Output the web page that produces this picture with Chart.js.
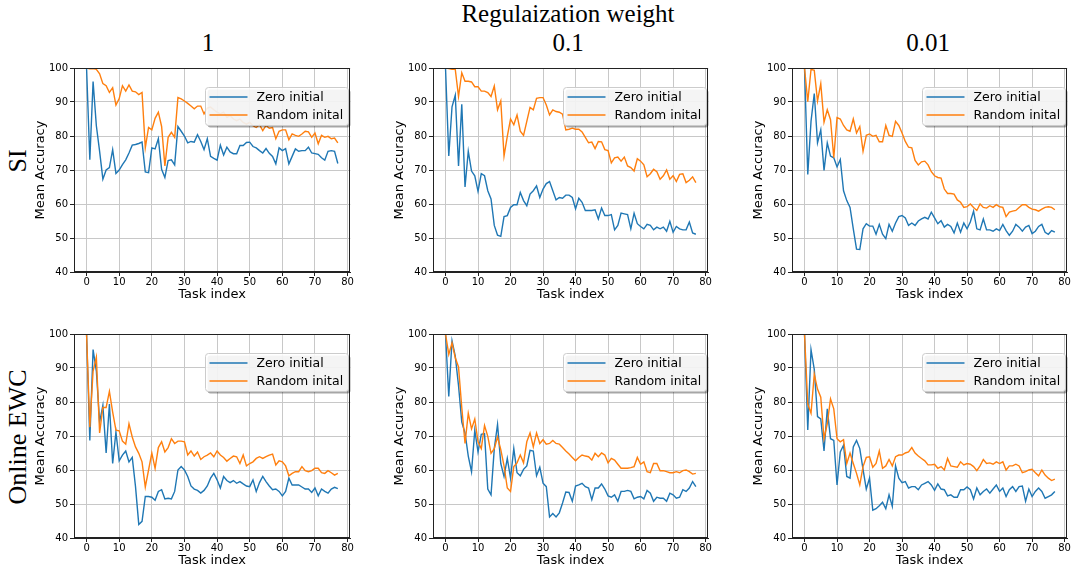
<!DOCTYPE html>
<html>
<head>
<meta charset="utf-8">
<script src="https://cdn.jsdelivr.net/npm/chart.js@4.4.1/dist/chart.umd.min.js"></script>
<style>
  html, body { margin: 0; padding: 0; background: #fff; }
  #fig { position: relative; width: 1071px; height: 571px; overflow: hidden; background: #fff; }
  canvas { position: absolute; }
  .lbl { position: absolute; font-family: 'Liberation Serif', 'DejaVu Serif', serif; color: #000;
         white-space: nowrap; transform: translate(-50%, -50%); line-height: 1; }
  .rot { transform: translate(-50%, -50%) rotate(-90deg); }
</style>
</head>
<body>
<div id="fig">
  <div class="lbl" style="left:568px; top:13px; font-size:25px;">Regulaization weight</div>
  <div class="lbl" style="left:208px; top:42px; font-size:25px;">1</div>
  <div class="lbl" style="left:568px; top:42px; font-size:25px;">0.1</div>
  <div class="lbl" style="left:928px; top:42px; font-size:25px;">0.01</div>
  <div class="lbl rot" style="left:18px; top:161px; font-size:26px;">SI</div>
  <div class="lbl rot" style="left:18px; top:437px; font-size:26px;">Online EWC</div>
</div>
<script>
// task index 0..77
const taskIdx = Array.from({ length: 78 }, (_, i) => i);
const xTicks = [0, 10, 20, 30, 40, 50, 60, 70, 80];
const yTicks = [40, 50, 60, 70, 80, 90, 100];
const seriesNames = ['Zero initial', 'Random inital'];

// SI, weight 1
const siW1Zero = [100, 73, 96, 83, 75.5, 67.3, 70, 70.7, 76, 69,
  70, 71.6, 73, 75, 77.3, 77.5, 77.8, 78.2, 69.4, 69.2,
  76.5, 76.2, 79.2, 70.2, 67.8, 72.8, 73, 71.5, 82.8, 81.4,
  80, 78, 78.4, 78.2, 80.4, 78.4, 76, 79.2, 74, 73.4,
  72.9, 77.3, 74.4, 76.7, 75.3, 74.8, 74.8, 77.2, 77.2, 78.1,
  78.2, 76.9, 76.5, 75.7, 75, 76.3, 74.9, 74, 71.8, 76.5,
  75.7, 76.3, 71.8, 74, 76.2, 75.5, 75.7, 75.7, 76.7, 75,
  74.8, 74.6, 73.6, 72.9, 75.5, 75.7, 75.5, 71.9];
const siW1Rand = [100, 99.8, 99.8, 99.6, 98.3, 95.4, 94.8, 92.8, 94.2, 89.1,
  91, 94.8, 93.2, 95, 93.2, 93, 92.2, 92.8, 76.5, 82.5,
  81.8, 85.2, 87, 82.8, 71.2, 79.6, 81.1, 79.6, 91.3, 90.9,
  90.3, 89.6, 88.8, 88, 88.8, 88.8, 86.5, 88.2, 88.5, 87.7,
  87, 86.5, 87, 85.5, 86, 85, 84.5, 85, 84, 83.5,
  84, 83, 82.5, 83.3, 81.6, 83.1, 82.3, 82.5, 79.2, 81.4,
  81.8, 81.8, 78.9, 80.6, 80.2, 79.9, 80.6, 81.4, 81.2, 79.6,
  80.9, 77.7, 80.2, 79.6, 79.9, 79.2, 79.4, 78];

// SI, weight 0.1
const siW01Zero = [100, 74.1, 88.6, 92, 71.2, 89.3, 65, 75.5, 69.7, 68.3,
  63.7, 68.9, 68.3, 63.9, 61.5, 53.7, 50.8, 50.5, 56.3, 56.6,
  59, 59.8, 59.8, 63.4, 61, 59.5, 62.9, 63.9, 65.3, 61.9,
  64.4, 66, 66.6, 63.9, 61.2, 61.9, 61.7, 62.6, 62.6, 61.9,
  58.6, 61.7, 60.5, 58.1, 58.1, 58.1, 58.3, 55.6, 58.8, 56.6,
  56.6, 56.9, 52.4, 53.7, 57.3, 57.1, 56.9, 52.7, 57.3, 54.2,
  53.4, 52.7, 54, 53.7, 52.4, 53.2, 52.7, 53.2, 52, 54.9,
  51.7, 53.4, 52.7, 52.4, 52.4, 54.7, 51.5, 51.1];
const siW01Rand = [100, 99.8, 99.6, 99.6, 91.6, 98.6, 96.1, 96.1, 95.9, 94.5,
  94.5, 93.2, 93.2, 92.8, 91.6, 94.7, 87.7, 90.3, 74.1, 79.9,
  85, 83.3, 86.2, 81.4, 80.2, 84.3, 88.4, 87.7, 91.1, 91.3,
  91.3, 89.1, 86.2, 87.7, 87.2, 87, 86.4, 81.8, 82, 82.3,
  82, 82, 81.2, 79.6, 78, 78.2, 76.3, 78.4, 78.3, 76,
  75.7, 72.1, 73.6, 73.8, 72.6, 73.8, 71.2, 70.7, 69.7, 73.3,
  72.6, 71.5, 68, 68.9, 70.2, 69.5, 67.3, 68.3, 70, 67.3,
  68.3, 66.6, 68.7, 68.9, 66.3, 67, 68, 66.3];

// SI, weight 0.01
const siW001Zero = [100, 68.7, 84.3, 92.5, 78, 81.8, 69.9, 78, 74.1, 73.6,
  70.9, 73.1, 63.9, 61, 59, 52.7, 46.7, 46.6, 52.7, 54.2,
  53.5, 53.5, 51.1, 54, 51.1, 49.8, 54, 52, 54.4, 56.3,
  56.6, 55.9, 53.7, 54.4, 53.7, 55, 55.6, 56.1, 55.6, 57.6,
  55.9, 54.2, 55.1, 53.2, 54, 53.4, 51.5, 54.4, 51.7, 54.4,
  52.7, 54.7, 57.9, 52.7, 52.4, 55.6, 52.4, 52.4, 52, 52.7,
  52.2, 54, 52.2, 50.8, 52, 54, 53.2, 52, 53.2, 53.7,
  51.3, 52, 53.4, 54, 51.7, 51.1, 52.2, 51.7];
const siW001Rand = [100, 90.1, 99.6, 99.3, 90.3, 95.4, 84.1, 87.7, 84.8, 73.6,
  85.4, 85, 83.1, 81.8, 81.4, 85, 80.9, 82.8, 75.5, 80.2,
  80.6, 79.9, 80.2, 78.3, 78.3, 83.1, 80.2, 79.9, 84.3, 83.1,
  80.9, 78.4, 76.7, 76.5, 72.8, 71.5, 72.4, 72.6, 71.5, 69.5,
  68.3, 67.8, 67.6, 64.4, 63.1, 63.1, 62.9, 61.2, 60.5, 59,
  59.2, 60, 59, 58.1, 60, 59, 58.8, 59.5, 59, 59.8,
  59.2, 59, 56.3, 57.6, 57.9, 58.1, 59, 59.8, 59.8, 59,
  58.5, 58.3, 57.9, 58.5, 59, 59.2, 59, 58.3];

// Online EWC, weight 1
const ewcW1Zero = [100, 68.7, 95.4, 89.1, 74.1, 79, 65, 79.4, 61.9, 71.2,
  62.7, 64.4, 65.6, 62.4, 63.7, 55.1, 44, 44.9, 52.2, 52.2,
  52, 51.1, 53.7, 54.2, 51.5, 51.7, 51.5, 53.7, 60, 61,
  60, 58.1, 55.3, 54.4, 54, 53.2, 54, 55.3, 57.6, 59,
  57.1, 54.7, 58.1, 56.9, 56.3, 56.9, 56.1, 56.6, 55.9, 55.3,
  55.1, 57.1, 53.7, 56.3, 58.1, 56.6, 55.3, 54.2, 54.4, 53.7,
  52.4, 53.7, 57.6, 55.6, 55.6, 55.6, 55, 54.4, 54.4, 53.4,
  54.7, 52.4, 54.4, 53.7, 53.2, 54.4, 54.9, 54.5];
const ewcW1Rand = [100, 72.6, 89.1, 93.2, 70.9, 78.4, 78.4, 83.1, 77, 71.7,
  71.5, 68.5, 67.6, 73.6, 69.7, 66.8, 64.9, 62.4, 55, 60,
  65, 60.5, 66.6, 68.3, 65.3, 66.6, 69.2, 67.8, 68.5, 68.5,
  68.3, 64.4, 65.6, 64.1, 65.3, 63.1, 63.9, 64.4, 65, 63.9,
  65.6, 64.4, 63.7, 62.6, 63.4, 64.1, 63.9, 61.9, 64.4, 61.2,
  61.9, 62.4, 63.4, 63.9, 63.4, 63.9, 64.4, 64.7, 61.5, 62.7,
  62.4, 61.2, 58.3, 59, 59.5, 59.5, 61, 59.8, 59.5, 59.8,
  60.5, 60.5, 59.2, 59, 59.8, 59.2, 58.5, 59];

// Online EWC, weight 0.1
const ewcW01Zero = [100, 81.6, 98, 93.5, 84.8, 74.1, 70.9, 64.1, 59.5, 71.7,
  65.3, 70.5, 70.7, 54.4, 52.7, 66.3, 73.4, 61.9, 58.1, 63.4,
  57.6, 66.3, 59.2, 58.3, 60.2, 61.2, 65.8, 65.6, 58.3, 60.8,
  56.1, 55.1, 46.2, 47.2, 46.2, 47.4, 50.3, 53.5, 53.4, 50.8,
  55.3, 55.6, 56.1, 55.1, 54.7, 51.3, 54.7, 54.7, 55.9, 54.4,
  52.4, 52, 52.7, 50.8, 53.7, 53.7, 54, 53.7, 51.5, 52,
  52.2, 51.5, 54, 53.2, 50.8, 52, 51.7, 51.7, 50.8, 53.2,
  52.7, 51.7, 52, 54.2, 53.7, 54.7, 56.6, 55.1];
const ewcW01Rand = [100, 94, 97.4, 93, 90.3, 78.4, 67.8, 76.7, 72.1, 75,
  68.3, 66.3, 73.1, 69.9, 64.9, 66.3, 69.7, 66, 61.2, 54.7,
  53.7, 61, 62.1, 64.4, 62.1, 68.3, 70.9, 66.8, 70.9, 67.8,
  68.9, 67.6, 67.8, 68.7, 67.8, 67.6, 66.6, 65.6, 64.7, 63.7,
  62.7, 63.7, 64.4, 64.1, 63.9, 62.9, 64.9, 63.9, 65, 64.4,
  62.1, 63.4, 62.9, 61.7, 60.5, 60.5, 60.5, 60.7, 61, 63.7,
  61.7, 62.4, 59.5, 59.2, 61.9, 61.9, 59.8, 59.8, 59.5, 59.2,
  59.2, 59.5, 59.2, 59.8, 60, 59.5, 58.8, 59];

// Online EWC, weight 0.01
const ewcW001Zero = [100, 71.8, 95.4, 89.6, 75.7, 75, 65.6, 78, 69.2, 68.7,
  55.6, 65.3, 67.3, 58.1, 57.6, 66.8, 68.7, 66.3, 60.2, 54.4,
  57.6, 48.2, 48.6, 49.5, 50.5, 48.6, 52.7, 49.3, 61.2, 57.6,
  56.3, 56.6, 54.7, 55.1, 55.1, 54.2, 55.6, 56.1, 56.6, 55.6,
  54, 55.9, 54.4, 54.2, 52.4, 52.7, 52, 52, 54.2, 54.2,
  55, 54.2, 51.5, 54.7, 52.7, 53.7, 54.4, 53.2, 54.4, 55.6,
  53.7, 54.7, 52.2, 54.2, 55.1, 53.7, 55.1, 55.3, 50.8, 54.4,
  52.2, 53.7, 54.7, 53.7, 51.7, 52.2, 52.7, 53.7];
const ewcW001Rand = [100, 79.4, 76.7, 88.2, 83.8, 81.4, 69.2, 73.6, 80.9, 78,
  69.2, 68.3, 68.9, 61.9, 65, 61.9, 59, 55.6, 61, 63.7,
  63.9, 60.8, 61.9, 65.6, 60.5, 61.2, 63.1, 61.2, 63.9, 64.4,
  64.4, 65, 65.3, 66.6, 65, 64.1, 63.4, 62.7, 61.5, 61.5,
  61.7, 60.5, 61, 60, 63.4, 61.2, 61, 60.8, 62.4, 61.5,
  61.9, 61.7, 61, 59.8, 61.2, 63.1, 61.9, 62.1, 61.7, 62.4,
  61.9, 62.4, 60, 61.2, 61.2, 61.7, 61.2, 59.2, 59.5, 60,
  60.2, 59.2, 58.3, 60, 58.5, 57.6, 56.9, 57.3];

const BLUE = '#1f77b4';
const ORANGE = '#ff7f0e';
const SANS = "'DejaVu Sans', sans-serif";

// plot-area placement (page px) and which series go in it
const panels = [
  { left: 74,  right: 351,  top: 66,  zero: siW1Zero,    rand: siW1Rand },
  { left: 433, right: 709,  top: 66,  zero: siW01Zero,   rand: siW01Rand },
  { left: 792, right: 1068, top: 66,  zero: siW001Zero,  rand: siW001Rand },
  { left: 74,  right: 351,  top: 332, zero: ewcW1Zero,   rand: ewcW1Rand },
  { left: 433, right: 709,  top: 332, zero: ewcW01Zero,  rand: ewcW01Rand },
  { left: 792, right: 1068, top: 332, zero: ewcW001Zero, rand: ewcW001Rand },
];
const PLOT_H = 206, Y_AXIS_W = 60, X_AXIS_H = 31, PAD_TOP = 6, PAD_RIGHT = 3;

// box around the axes + matplotlib-ish legend in the upper right
const framePlugin = {
  id: 'frame',
  afterDraw(chart) {
    const { ctx, chartArea: ca } = chart;
    ctx.save();
    ctx.strokeStyle = '#222';
    ctx.lineWidth = 1;
    ctx.strokeRect(Math.round(ca.left) + 0.5, Math.round(ca.top) + 0.5,
                   Math.round(ca.right - ca.left) - 1, Math.round(ca.bottom - ca.top) - 1);

    const bw = 143, bh = 38;
    const bx = Math.round(ca.right) - bw - 1.5, by = Math.round(ca.top) + 19.5;
    ctx.fillStyle = 'rgba(0,0,0,0.35)';
    ctx.beginPath(); ctx.roundRect(bx + 2, by + 2, bw, bh, 3); ctx.fill();
    ctx.fillStyle = 'rgba(255,255,255,0.88)';
    ctx.strokeStyle = '#cccccc';
    ctx.beginPath(); ctx.roundRect(bx, by, bw, bh, 3); ctx.fill(); ctx.stroke();

    ctx.font = '12.5px ' + SANS;
    ctx.textBaseline = 'middle';
    chart.data.datasets.forEach((ds, k) => {
      const ly = by + 9.5 + k * 18;
      ctx.strokeStyle = ds.borderColor;
      ctx.lineWidth = 1.5;
      ctx.beginPath(); ctx.moveTo(bx + 4, ly); ctx.lineTo(bx + 42, ly); ctx.stroke();
      ctx.fillStyle = '#000';
      ctx.fillText(ds.label, bx + 51, ly + 0.5);
    });
    ctx.restore();
  },
};

const fig = document.getElementById('fig');

panels.forEach(p => {
  const canvas = document.createElement('canvas');
  const w = (p.right - p.left) + Y_AXIS_W + PAD_RIGHT;
  const h = PLOT_H + PAD_TOP + X_AXIS_H;
  canvas.width = w; canvas.height = h;
  canvas.style.left = (p.left - Y_AXIS_W) + 'px';
  canvas.style.top = (p.top - PAD_TOP) + 'px';
  canvas.style.width = w + 'px'; canvas.style.height = h + 'px';
  fig.appendChild(canvas);

  new Chart(canvas.getContext('2d'), {
    type: 'line',
    data: {
      datasets: [
        { label: seriesNames[0], data: taskIdx.map((x, i) => ({ x, y: p.zero[i] })),
          borderColor: BLUE, borderWidth: 1.4, pointRadius: 0, order: 1 },
        { label: seriesNames[1], data: taskIdx.map((x, i) => ({ x, y: p.rand[i] })),
          borderColor: ORANGE, borderWidth: 1.4, pointRadius: 0, order: 0 },
      ],
    },
    options: {
      responsive: false,
      animation: false,
      devicePixelRatio: 1,
      layout: { padding: { top: PAD_TOP, right: PAD_RIGHT, left: 0, bottom: 0 } },
      plugins: { legend: { display: false }, tooltip: { enabled: false } },
      elements: { line: { tension: 0 } },
      scales: {
        x: {
          type: 'linear', min: -3.85, max: 80.85,
          afterBuildTicks: ax => { ax.ticks = xTicks.map(v => ({ value: v })); },
          afterFit: ax => { ax.height = X_AXIS_H; },
          grid: { color: '#c8c8c8', lineWidth: 1, tickLength: 4, tickColor: '#222' },
          border: { color: '#222' },
          ticks: { color: '#000', font: { size: 10, family: SANS }, padding: 0, maxRotation: 0 },
          title: { display: true, text: 'Task index', color: '#000',
                   font: { size: 13, family: SANS }, padding: { top: 0, bottom: 1 } },
        },
        y: {
          min: 40, max: 100,
          afterBuildTicks: ax => { ax.ticks = yTicks.map(v => ({ value: v })); },
          afterFit: ax => { ax.width = Y_AXIS_W; },
          grid: { color: '#c8c8c8', lineWidth: 1, tickLength: 4, tickColor: '#222' },
          border: { color: '#222' },
          ticks: { color: '#000', font: { size: 10, family: SANS }, padding: 2 },
          title: { display: true, text: 'Mean Accuracy', color: '#000',
                   font: { size: 13, family: SANS }, padding: { top: 19, bottom: 0 } },
        },
      },
    },
    plugins: [framePlugin],
  });
});
</script>
</body>
</html>
